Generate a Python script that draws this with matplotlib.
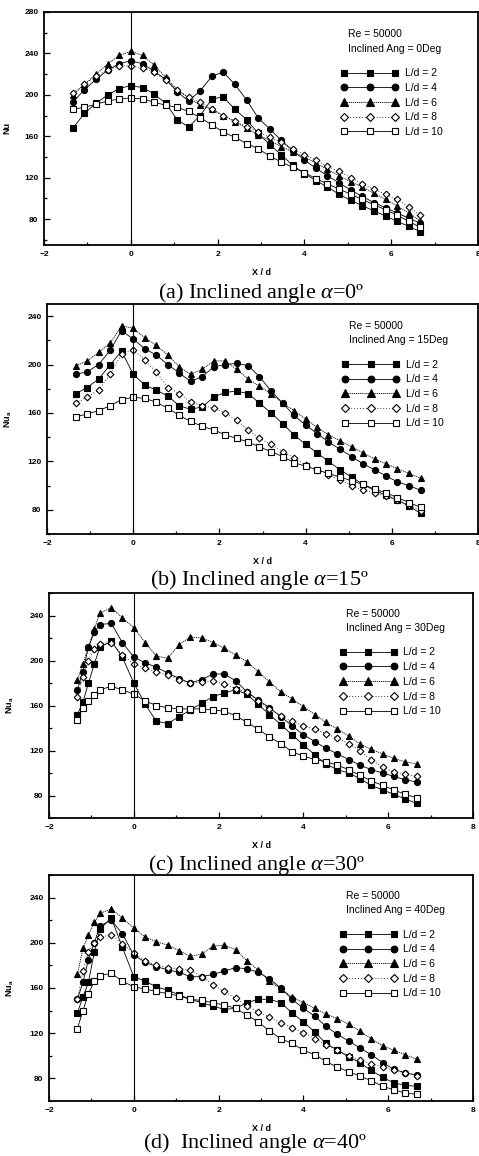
import matplotlib
matplotlib.use("Agg")
import matplotlib.pyplot as plt
from matplotlib.ticker import MultipleLocator

plt.rcParams['font.family'] = ['Liberation Sans', 'DejaVu Sans']
plt.rcParams['mathtext.fontset'] = 'custom'
plt.rcParams['mathtext.bf'] = 'Liberation Sans:bold'
plt.rcParams['mathtext.rm'] = 'Liberation Sans'
plt.rcParams['mathtext.it'] = 'Liberation Serif:italic'

# X/d stations
x_ab = [-1.33, -1.07, -0.80, -0.53, -0.27, 0.00, 0.27, 0.53, 0.80, 1.07, 1.33,
        1.60, 1.87, 2.13, 2.40, 2.67, 2.93, 3.20, 3.47, 3.73, 4.00, 4.27, 4.53,
        4.80, 5.07, 5.33, 5.60, 5.87, 6.13, 6.40, 6.67]
x_cd = [-1.33, -1.20, -1.07, -0.93, -0.80, -0.53, -0.27, 0.00, 0.27, 0.53, 0.80,
        1.07, 1.33, 1.60, 1.87, 2.13, 2.40, 2.67, 2.93, 3.20, 3.47, 3.73, 4.00,
        4.27, 4.53, 4.80, 5.07, 5.33, 5.60, 5.87, 6.13, 6.40, 6.67]

ld_labels = ['L/d = 2', 'L/d = 4', 'L/d = 6', 'L/d = 8', 'L/d = 10']

# (a) 0 deg
a2 = [168, 182, 192, 200, 206, 209, 207, 201, 192, 176, 169, 180, 196, 198, 186, 176,
      163, 152, 142, 132, 124, 117, 111, 104, 98, 93, 88, 83, 78, 73, 68]
a4 = [193, 205, 215, 224, 230, 233, 230, 223, 215, 203, 194, 204, 218, 222, 210, 195,
      178, 167, 156, 146, 137, 129, 122, 115, 108, 102, 96, 91, 86, 81, 76]
a6 = [200, 210, 220, 230, 238, 242, 238, 229, 217, 205, 197, 190, 186, 180, 174, 168,
      161, 156, 150, 145, 140, 134, 128, 122, 116, 111, 105, 99, 93, 86, 78]
a8 = [202, 210, 218, 224, 228, 228, 226, 222, 214, 205, 198, 193, 186, 180, 175, 169,
      164, 159, 154, 148, 142, 137, 131, 126, 120, 114, 109, 104, 99, 92, 84]
a10 = [186, 188, 191, 194, 196, 197, 196, 193, 190, 188, 184, 178, 171, 164, 159, 153,
       148, 141, 135, 130, 125, 119, 114, 109, 104, 99, 94, 89, 84, 78, 72]

# (b) 15 deg
b2 = [176, 181, 188, 200, 211, 192, 183, 179, 174, 166, 163, 165, 173, 177, 178, 176,
      168, 160, 151, 142, 134, 127, 120, 113, 107, 101, 96, 92, 88, 83, 77]
b4 = [192, 194, 200, 212, 228, 221, 213, 208, 200, 193, 186, 190, 198, 200, 201, 199,
      190, 178, 168, 158, 150, 143, 136, 130, 124, 118, 113, 108, 103, 100, 96]
b6 = [199, 203, 210, 218, 232, 230, 222, 216, 208, 198, 192, 196, 203, 203, 196, 188,
      182, 176, 168, 162, 155, 148, 142, 137, 132, 127, 122, 118, 114, 110, 106]
b8 = [168, 173, 179, 192, 209, 212, 204, 194, 181, 176, 169, 166, 164, 160, 154, 146,
      139, 134, 128, 123, 117, 113, 109, 105, 100, 96, 94, 91, 88, 84, 79]
b10 = [157, 159, 162, 166, 171, 173, 172, 169, 164, 158, 153, 149, 146, 142, 139, 136,
       132, 128, 124, 119, 116, 113, 110, 107, 104, 101, 97, 94, 90, 86, 82]

# (c) 30 deg
c2 = [152, 163, 180, 197, 212, 217, 203, 180, 161, 146, 144, 150, 156, 162, 168, 171,
      174, 170, 161, 152, 143, 134, 125, 116, 108, 103, 100, 95, 89, 85, 81, 77, 73]
c4 = [174, 190, 212, 225, 232, 233, 216, 203, 198, 194, 189, 184, 180, 183, 188, 188,
      182, 172, 165, 158, 150, 142, 134, 128, 122, 117, 112, 107, 103, 100, 97, 94, 92]
c6 = [183, 197, 212, 228, 242, 247, 238, 229, 216, 204, 202, 214, 221, 220, 216, 211,
      205, 199, 190, 181, 172, 166, 159, 152, 145, 139, 133, 126, 121, 117, 113, 110, 108]
c8 = [168, 185, 200, 210, 215, 216, 205, 197, 193, 190, 187, 183, 180, 181, 182, 179,
      175, 172, 164, 157, 151, 146, 142, 139, 135, 131, 126, 120, 112, 105, 101, 99, 97]
c10 = [147, 158, 164, 169, 174, 177, 174, 170, 164, 160, 158, 157, 157, 157, 156, 155,
       151, 145, 139, 132, 126, 119, 115, 112, 110, 107, 103, 98, 93, 89, 85, 81, 78]

# (d) 40 deg
d2 = [138, 152, 165, 192, 212, 222, 196, 170, 166, 161, 158, 154, 150, 147, 144, 141,
      142, 147, 150, 150, 147, 138, 130, 121, 111, 105, 99, 94, 87, 81, 76, 74, 73]
d4 = [150, 165, 185, 200, 215, 220, 208, 189, 183, 179, 176, 174, 170, 170, 172, 175,
      178, 177, 174, 168, 160, 150, 142, 135, 126, 119, 113, 107, 101, 94, 88, 85, 83]
d6 = [172, 195, 207, 218, 226, 230, 222, 213, 205, 201, 198, 193, 188, 190, 197, 198,
      194, 184, 176, 166, 159, 152, 147, 142, 137, 133, 128, 122, 115, 109, 105, 101, 97]
d8 = [150, 175, 192, 200, 205, 207, 199, 191, 184, 180, 178, 177, 176, 170, 163, 157,
      151, 144, 139, 134, 129, 125, 120, 115, 110, 105, 100, 96, 93, 90, 87, 85, 82]
d10 = [124, 140, 155, 166, 171, 173, 166, 161, 159, 157, 155, 153, 150, 149, 147, 145,
       142, 136, 130, 122, 115, 111, 105, 101, 95, 90, 86, 82, 78, 73, 70, 67, 66]

markers = ['s', 'o', '^', 'D', 's']
faces = ['black', 'black', 'black', 'white', 'white']
lstyles = ['-', '-', (0, (1.5, 1)), (0, (1, 2.5)), '-']
msizes = [4.2, 4.4, 4.6, 3.4, 4.2]

W, H = 479, 1156
panels = [
    (x_ab, [a2, a4, a6, a8, a10], '0', (55, 280), 'Nu', (44, 12, 478, 245),
     r'(a) Inclined angle $\alpha$=0º', 261, 298),
    (x_ab, [b2, b4, b6, b8, b10], '15', (60, 250), r'$\mathbf{Nu_a}$', (47, 304, 478, 534),
     r'(b) Inclined angle $\alpha$=15º', 259, 585),
    (x_cd, [c2, c4, c6, c8, c10], '30', (60, 260), r'$\mathbf{Nu_a}$', (49, 593, 473, 818),
     r'(c) Inclined angle $\alpha$=30º', 257, 870),
    (x_cd, [d2, d4, d6, d8, d10], '40', (60, 260), r'$\mathbf{Nu_a}$', (49, 875, 473, 1101),
     r'(d)  Inclined angle $\alpha$=40º', 255, 1148),
]

fig = plt.figure(figsize=(W / 100, H / 100), dpi=100)

for xs, series, ang, ylim, ylab, box, cap, cx, cy in panels:
    l, t, r, b = box
    ax = fig.add_axes([l / W, 1 - b / H, (r - l) / W, (b - t) / H])
    for i, ys in enumerate(series):
        ax.plot(xs, ys, marker=markers[i], ms=msizes[i], mfc=faces[i], mec='black',
                mew=0.8, color='black', lw=0.6, ls=lstyles[i], label=ld_labels[i])
    ax.axvline(0, color='black', lw=0.8)
    ax.set_xlim(-2, 8)
    ax.set_ylim(*ylim)
    ax.xaxis.set_major_locator(MultipleLocator(2))
    ax.xaxis.set_minor_locator(MultipleLocator(1))
    ax.yaxis.set_major_locator(MultipleLocator(40))
    ax.yaxis.set_minor_locator(MultipleLocator(20))
    ax.tick_params(which='both', direction='in', width=0.9, labelsize=6, pad=4)
    ax.tick_params(which='major', length=4.5)
    ax.tick_params(which='minor', length=2.5)
    for lab in ax.get_xticklabels() + ax.get_yticklabels():
        lab.set_fontweight('bold')
    for sp in ax.spines.values():
        sp.set_linewidth(1.3)
    ax.set_xlabel('X / d', fontsize=6.5, fontweight='bold')
    ax.set_ylabel(ylab, fontsize=6.5, fontweight='bold')
    ax.xaxis.set_label_coords(0.5, -23 / (b - t))
    ax.yaxis.set_label_coords(-33 / (r - l), 0.5)
    ax.text(0.70, 0.905, 'Re = 50000', transform=ax.transAxes, fontsize=7.5, va='center')
    ax.text(0.70, 0.843, 'Inclined Ang = ' + ang + 'Deg', transform=ax.transAxes,
            fontsize=7.5, va='center')
    ax.legend(loc='upper left', bbox_to_anchor=(0.685, 0.758), frameon=False,
              numpoints=3, handlelength=5.5, handletextpad=0.6, labelspacing=0.45,
              borderpad=0, borderaxespad=0, fontsize=7.5, markerscale=1.1)
    fig.text(cx / W, 1 - cy / H, cap, family='Liberation Serif', fontsize=16,
             ha='center', va='baseline')

fig.savefig('out.png', dpi=100)
